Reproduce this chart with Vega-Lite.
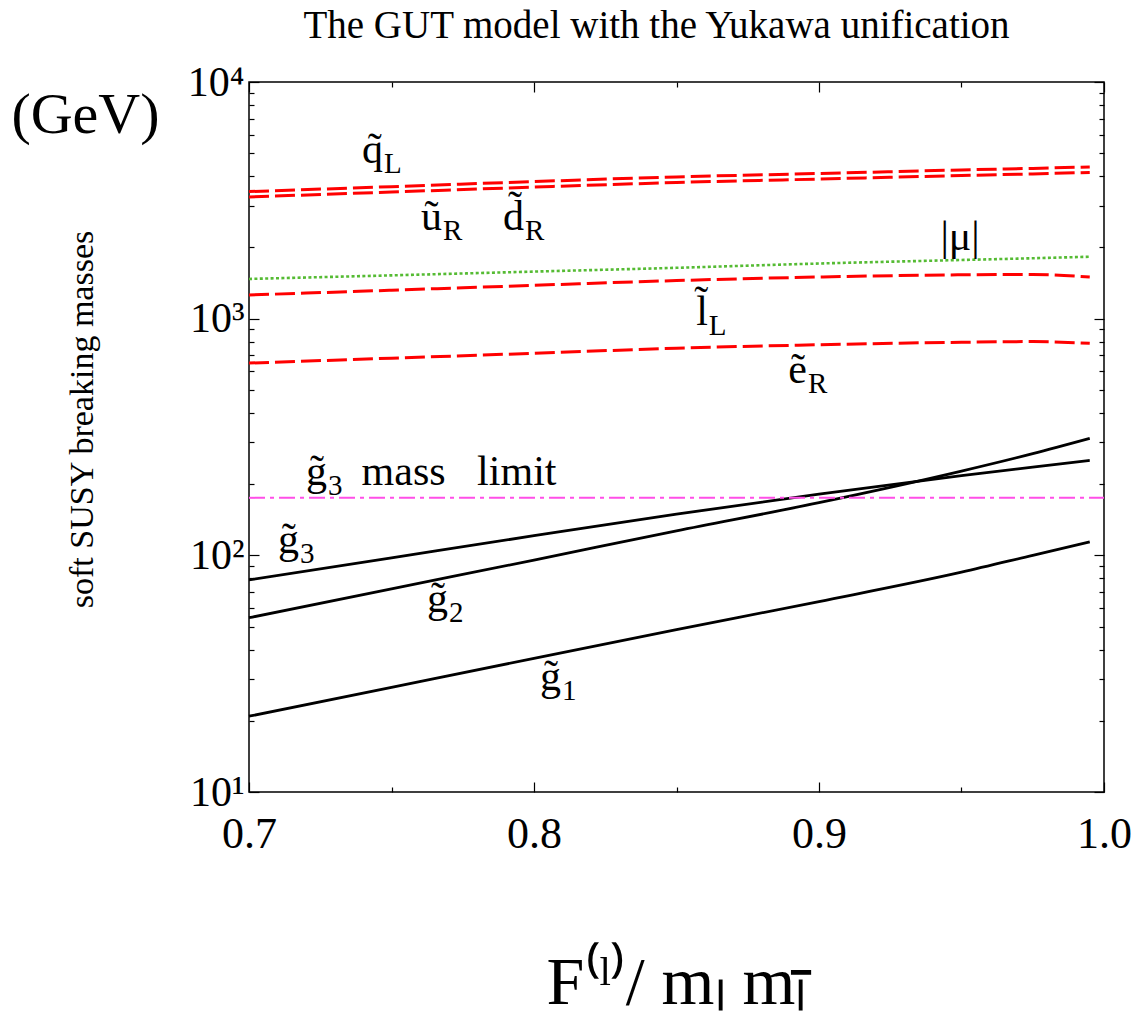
{
  "$schema": "https://vega.github.io/schema/vega-lite/v6.json",
  "width": 855,
  "height": 710,
  "autosize": {"type": "none"},
  "padding": {"left": 249, "top": 82, "right": 44, "bottom": 227},
  "background": "white",
  "config": {"view": {"stroke": "black", "strokeWidth": 1.5}, "font": "Liberation Serif"},
  "title": {"text": "The GUT model with the Yukawa unification", "font": "Liberation Serif", "fontSize": 39, "fontWeight": "normal", "color": "black", "anchor": "middle", "frame": "group", "dx": -20, "offset": -16, "baseline": "alphabetic"},
  "datasets": {
    "curves": [
      {"series": "qL", "x": 0.7, "m": 3443}, {"series": "qL", "x": 0.75, "m": 3612}, {"series": "qL", "x": 0.8, "m": 3796}, {"series": "qL", "x": 0.85, "m": 3972}, {"series": "qL", "x": 0.9, "m": 4105}, {"series": "qL", "x": 0.95, "m": 4250}, {"series": "qL", "x": 0.975, "m": 4315}, {"series": "qL", "x": 0.995, "m": 4375},
      {"series": "uRdR", "x": 0.7, "m": 3268}, {"series": "uRdR", "x": 0.75, "m": 3428}, {"series": "uRdR", "x": 0.8, "m": 3598}, {"series": "uRdR", "x": 0.85, "m": 3761}, {"series": "uRdR", "x": 0.9, "m": 3890}, {"series": "uRdR", "x": 0.95, "m": 4025}, {"series": "uRdR", "x": 0.975, "m": 4090}, {"series": "uRdR", "x": 0.995, "m": 4150},
      {"series": "mu", "x": 0.7, "m": 1472}, {"series": "mu", "x": 0.75, "m": 1524}, {"series": "mu", "x": 0.8, "m": 1581}, {"series": "mu", "x": 0.85, "m": 1640}, {"series": "mu", "x": 0.9, "m": 1710}, {"series": "mu", "x": 0.95, "m": 1770}, {"series": "mu", "x": 0.975, "m": 1800}, {"series": "mu", "x": 0.995, "m": 1827},
      {"series": "lL", "x": 0.7, "m": 1259}, {"series": "lL", "x": 0.75, "m": 1319}, {"series": "lL", "x": 0.8, "m": 1383}, {"series": "lL", "x": 0.85, "m": 1449}, {"series": "lL", "x": 0.9, "m": 1500}, {"series": "lL", "x": 0.95, "m": 1532}, {"series": "lL", "x": 0.975, "m": 1537}, {"series": "lL", "x": 0.995, "m": 1500},
      {"series": "eR", "x": 0.7, "m": 649}, {"series": "eR", "x": 0.75, "m": 681}, {"series": "eR", "x": 0.8, "m": 714}, {"series": "eR", "x": 0.85, "m": 750}, {"series": "eR", "x": 0.9, "m": 776}, {"series": "eR", "x": 0.95, "m": 795}, {"series": "eR", "x": 0.975, "m": 800}, {"series": "eR", "x": 0.995, "m": 787},
      {"series": "g3", "x": 0.7, "m": 78.7}, {"series": "g3", "x": 0.75, "m": 97.6}, {"series": "g3", "x": 0.8, "m": 121}, {"series": "g3", "x": 0.85, "m": 149.3}, {"series": "g3", "x": 0.9, "m": 181.4}, {"series": "g3", "x": 0.95, "m": 217}, {"series": "g3", "x": 0.975, "m": 236}, {"series": "g3", "x": 0.995, "m": 252},
      {"series": "g2", "x": 0.7, "m": 54.5}, {"series": "g2", "x": 0.75, "m": 72.2}, {"series": "g2", "x": 0.8, "m": 95.5}, {"series": "g2", "x": 0.85, "m": 126.8}, {"series": "g2", "x": 0.9, "m": 167}, {"series": "g2", "x": 0.95, "m": 227}, {"series": "g2", "x": 0.975, "m": 269}, {"series": "g2", "x": 0.995, "m": 312},
      {"series": "g1", "x": 0.7, "m": 20.9}, {"series": "g1", "x": 0.75, "m": 27.7}, {"series": "g1", "x": 0.8, "m": 36.7}, {"series": "g1", "x": 0.85, "m": 48.5}, {"series": "g1", "x": 0.9, "m": 63.8}, {"series": "g1", "x": 0.95, "m": 84.9}, {"series": "g1", "x": 0.975, "m": 100}, {"series": "g1", "x": 0.995, "m": 114},
      {"series": "limit", "x": 0.7, "m": 175}, {"series": "limit", "x": 1.0, "m": 175}
    ],
    "labels": [
      {"x": 0.747, "m": 4550, "main": "q̃", "sub": "L"},
      {"x": 0.7677, "m": 2371, "main": "ũ", "sub": "R"},
      {"x": 0.7965, "m": 2371, "main": "d̃", "sub": "R"},
      {"x": 0.861, "m": 940, "main": "l̃", "sub": "L"},
      {"x": 0.8958, "m": 535, "main": "ẽ", "sub": "R"},
      {"x": 0.7274, "m": 198, "main": "g̃", "sub": "3"},
      {"x": 0.7175, "m": 102, "main": "g̃", "sub": "3"},
      {"x": 0.7698, "m": 57.7, "main": "g̃", "sub": "2"},
      {"x": 0.8095, "m": 27, "main": "g̃", "sub": "1"}
    ],
    "plain": [
      {"x": 0.9495, "m": 1950, "text": "|μ|"},
      {"x": 0.7737, "m": 198, "text": "mass\u00a0\u00a0\u00a0limit"}
    ]
  },
  "resolve": {"axis": {"x": "independent", "y": "independent"}},
  "layer": [
    {
      "data": {"name": "curves"},
      "transform": [{"filter": "datum.series == 'g1' || datum.series == 'g2' || datum.series == 'g3'"}],
      "mark": {"type": "line", "interpolate": "monotone", "color": "black", "strokeWidth": 2.8},
      "encoding": {
        "detail": {"field": "series", "type": "nominal"},
        "x": {"field": "x", "type": "quantitative", "scale": {"domain": [0.7, 1.0], "nice": false, "zero": false},
          "axis": {"orient": "bottom", "values": [0.7, 0.75, 0.8, 0.85, 0.9, 0.95, 1.0], "labelExpr": "abs(datum.value*10 - round(datum.value*10)) < 0.001 ? format(datum.value, '.1f') : ''", "domain": false, "grid": false, "tickColor": "black", "tickWidth": 1.2, "tickSize": {"condition": {"test": "abs(datum.value*10 - round(datum.value*10)) < 0.001", "value": -10}, "value": -5}, "labelFont": "Liberation Serif", "labelFontSize": 44, "labelColor": "black", "labelPadding": 30, "labelFlush": false, "labelOverlap": false,
            "title": "F⁽ˡ⁾/ mₗ mₗ̄", "titleFont": "Liberation Serif", "titleFontSize": 68, "titleFontWeight": "normal", "titleColor": "black", "titleX": 427, "titleY": 211, "titleBaseline": "alphabetic", "titleAlign": "center"}},
        "y": {"field": "m", "type": "quantitative", "scale": {"type": "log", "domain": [10, 10000], "nice": false},
          "axis": {"orient": "left", "values": [10, 20, 30, 40, 50, 60, 70, 80, 90, 100, 200, 300, 400, 500, 600, 700, 800, 900, 1000, 2000, 3000, 4000, 5000, 6000, 7000, 8000, 9000, 10000], "labelExpr": "datum.value == 10 ? '10¹' : datum.value == 100 ? '10²' : datum.value == 1000 ? '10³' : datum.value == 10000 ? '10⁴' : ''", "domain": false, "grid": false, "tickColor": "black", "tickWidth": 1.2, "tickSize": {"condition": {"test": "datum.value == 10 || datum.value == 100 || datum.value == 1000 || datum.value == 10000", "value": -10}, "value": -5}, "labelFont": "Liberation Serif", "labelFontSize": 42, "labelColor": "black", "labelPadding": 15, "labelFlush": false, "labelOverlap": false,
            "title": "soft SUSY breaking masses", "titleFont": "Liberation Serif", "titleFontSize": 34, "titleFontWeight": "normal", "titleColor": "black", "titleAngle": -90, "titleX": -157, "titleY": 337, "titleBaseline": "alphabetic", "titleAlign": "center"}}
      }
    },
    {
      "data": {"name": "curves"},
      "transform": [{"filter": "datum.series == 'qL' || datum.series == 'uRdR' || datum.series == 'lL' || datum.series == 'eR'"}],
      "mark": {"type": "line", "interpolate": "monotone", "color": "#ff0000", "strokeWidth": 3, "strokeDash": [20, 6]},
      "encoding": {
        "detail": {"field": "series", "type": "nominal"},
        "x": {"field": "x", "type": "quantitative", "axis": null},
        "y": {"field": "m", "type": "quantitative", "axis": null}
      }
    },
    {
      "data": {"name": "curves"},
      "transform": [{"filter": "datum.series == 'mu'"}],
      "mark": {"type": "line", "interpolate": "monotone", "color": "#55bb33", "strokeWidth": 2.6, "strokeDash": [3, 2.4]},
      "encoding": {
        "x": {"field": "x", "type": "quantitative", "axis": null},
        "y": {"field": "m", "type": "quantitative", "axis": null}
      }
    },
    {
      "data": {"name": "curves"},
      "transform": [{"filter": "datum.series == 'limit'"}],
      "mark": {"type": "line", "color": "#ff4fe8", "strokeWidth": 2, "strokeDash": [16, 5, 4, 5]},
      "encoding": {
        "x": {"field": "x", "type": "quantitative", "scale": {"domain": [0.7, 1.0], "nice": false, "zero": false},
          "axis": {"orient": "top", "values": [0.7, 0.75, 0.8, 0.85, 0.9, 0.95, 1.0], "labels": false, "domain": false, "grid": false, "tickColor": "black", "tickWidth": 1.2, "tickSize": {"condition": {"test": "abs(datum.value*10 - round(datum.value*10)) < 0.001", "value": -10}, "value": -5}, "title": null}},
        "y": {"field": "m", "type": "quantitative", "scale": {"type": "log", "domain": [10, 10000], "nice": false},
          "axis": {"orient": "right", "values": [10, 20, 30, 40, 50, 60, 70, 80, 90, 100, 200, 300, 400, 500, 600, 700, 800, 900, 1000, 2000, 3000, 4000, 5000, 6000, 7000, 8000, 9000, 10000], "labels": false, "domain": false, "grid": false, "tickColor": "black", "tickWidth": 1.2, "tickSize": {"condition": {"test": "datum.value == 10 || datum.value == 100 || datum.value == 1000 || datum.value == 10000", "value": -10}, "value": -5},
            "title": "(GeV)", "titleFont": "Liberation Serif", "titleFontSize": 58, "titleFontWeight": "normal", "titleColor": "black", "titleAngle": 0, "titleX": -1019, "titleY": 50, "titleBaseline": "alphabetic", "titleAlign": "center"}}
      }
    },
    {
      "data": {"name": "labels"},
      "mark": {"type": "text", "font": "Liberation Serif", "fontSize": 42, "align": "right", "baseline": "alphabetic", "color": "black"},
      "encoding": {
        "x": {"field": "x", "type": "quantitative", "axis": null},
        "y": {"field": "m", "type": "quantitative", "axis": null},
        "text": {"field": "main"}
      }
    },
    {
      "data": {"name": "labels"},
      "mark": {"type": "text", "font": "Liberation Serif", "fontSize": 29, "align": "left", "baseline": "alphabetic", "dx": 1, "dy": 10, "color": "black"},
      "encoding": {
        "x": {"field": "x", "type": "quantitative", "axis": null},
        "y": {"field": "m", "type": "quantitative", "axis": null},
        "text": {"field": "sub"}
      }
    },
    {
      "data": {"name": "plain"},
      "mark": {"type": "text", "font": "Liberation Serif", "fontSize": 42, "align": "center", "baseline": "alphabetic", "color": "black"},
      "encoding": {
        "x": {"field": "x", "type": "quantitative", "axis": null},
        "y": {"field": "m", "type": "quantitative", "axis": null},
        "text": {"field": "text"}
      }
    }
  ]
}
